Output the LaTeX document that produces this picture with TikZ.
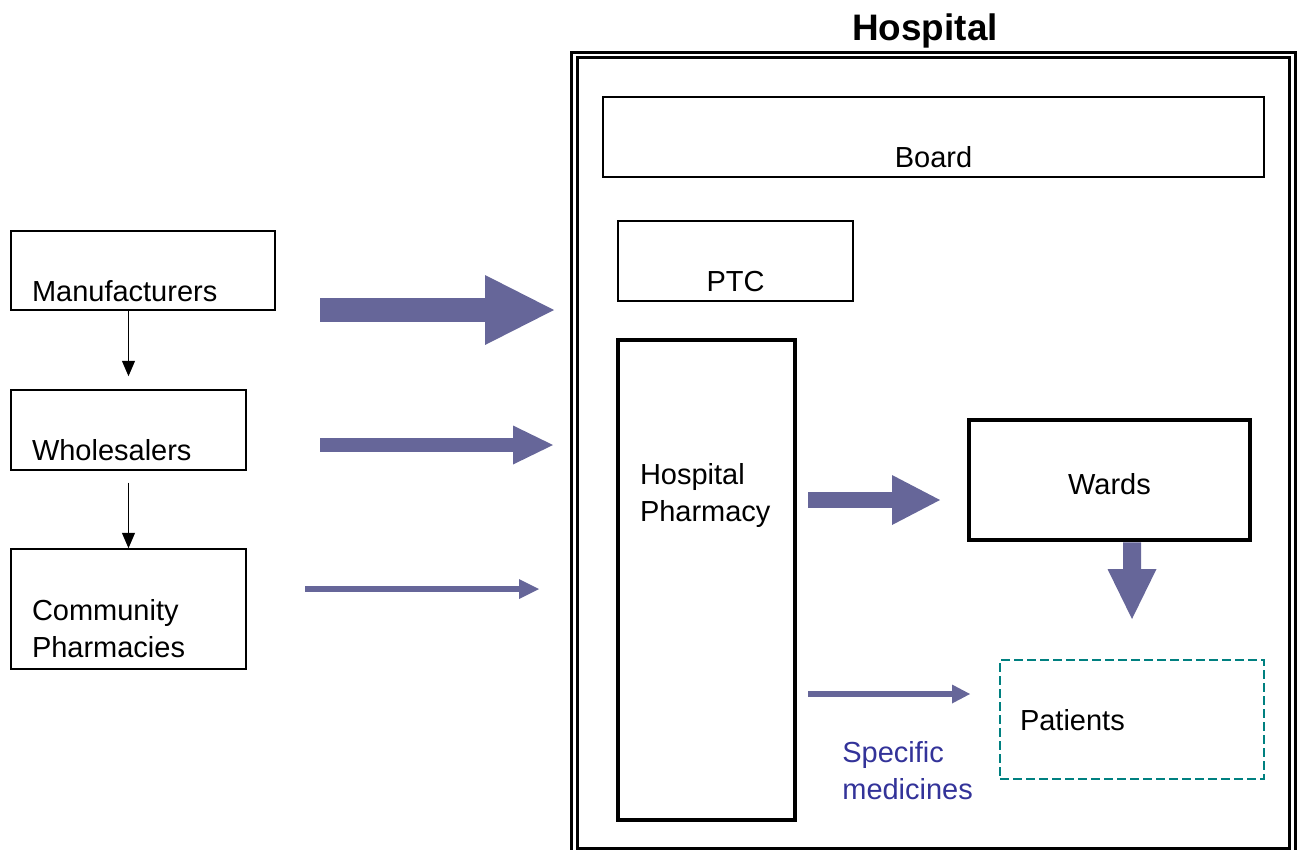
\documentclass[tikz,border=0pt]{standalone}
\usepackage{fontspec}
\setmainfont{Liberation Sans}
\usetikzlibrary{arrows.meta,positioning}
\definecolor{arrowblue}{RGB}{102,102,153}
\definecolor{specblue}{RGB}{51,51,153}
\definecolor{patteal}{RGB}{0,128,128}
\newdimen\pxu
\pxu=0.02cm

\begin{document}
\begin{tikzpicture}[x=0.02cm,y=-0.02cm,
   box/.style={draw,line width=0.9pt,inner sep=0pt,font=\fontsize{16.5pt}{21.6pt}\selectfont},
   thickbox/.style={box,line width=2.8pt},
   dashbox/.style={box,draw=patteal,line width=1.1pt,dash pattern=on 5pt off 2.4pt},
   hospbox/.style={draw,double,double distance=1.3pt,line width=1.8pt,inner sep=0pt},
   fat/.style n args={3}{draw=arrowblue,line width=#1,-{Triangle[width=#2,length=#3,line width=0pt]}},
   smallarrow/.style={draw,line width=1.1pt,-{Triangle[width=7.6pt,length=8.8pt,line width=0pt]}}]
   \useasboundingbox (0,0) rectangle (1302,849);

   \node[hospbox,minimum width=718\pxu,minimum height=796\pxu] (hosp) at (933.5,453) {};
   \node[font=\bfseries\fontsize{21pt}{25pt}\selectfont,anchor=base] (htitle) at (925,40) {Hospital};

   \node[box,minimum width=264\pxu,minimum height=79\pxu,text width=222\pxu,align=left,text height=61\pxu,text depth=0pt] (mfr) at (143,270.5) {Manufacturers};
   \node[box,minimum width=235\pxu,minimum height=80\pxu,text width=193\pxu,align=left,text height=60\pxu,text depth=0pt] (whl) at (128.5,430) {Wholesalers};
   \node[box,minimum width=235\pxu,minimum height=120\pxu,text width=193\pxu,align=left,text height=22\pxu,text depth=0pt] (com) at (128.5,609) {Community\\Pharmacies};

   \node[box,minimum width=661\pxu,minimum height=80\pxu,text height=60\pxu,text depth=0pt] (board) at (933.5,137) {Board};
   \node[box,minimum width=235\pxu,minimum height=80\pxu,text height=60\pxu,text depth=0pt] (ptc) at (735.5,261) {PTC};
   \node[thickbox,minimum width=177\pxu,minimum height=480\pxu,text width=133\pxu,align=left,text height=0pt,text depth=192\pxu] (hph) at (706.5,580) {Hospital\\Pharmacy};
   \node[thickbox,minimum width=281\pxu,minimum height=120\pxu,text height=28\pxu,text depth=0pt] (wards) at (1109.5,480) {Wards};
   \node[dashbox,minimum width=264\pxu,minimum height=119\pxu,text width=224\pxu,align=left,text height=21\pxu,text depth=0pt] (pat) at (1132,719.5) {Patients};
   \node[font=\fontsize{16.5pt}{21.6pt}\selectfont,text=specblue,text width=150\pxu,align=left,anchor=base west,inner sep=0pt] (spec) at (842,762) {Specific\\medicines};

   \coordinate (mfrtail) at (320,310);
   \coordinate (mfrhead) at (554,310);
   \coordinate (whltail) at (320,445);
   \coordinate (whlhead) at (553,445);
   \coordinate (comtail) at (305,589);
   \coordinate (comhead) at (539,589);
   \coordinate (hphtail) at (808,500);
   \coordinate (hphhead) at (940,500);
   \coordinate (wardtail) at ([xshift=22.5\pxu]wards.south);
   \coordinate (wardhead) at (1132,619);
   \coordinate (spectail) at (808,694);
   \coordinate (spechead) at (970,694);

   \path (whl.north |- mfr.south) edge[smallarrow,shorten >=7.4pt] (whl.north)
         (whl.south) edge[smallarrow,shorten <=6.8pt] (com.north);

   \path (mfrtail) edge[fat={13.66pt}{39.83pt}{39.26pt}] (mfrhead)
         (whltail) edge[fat={7.97pt}{22.19pt}{22.76pt}] (whlhead)
         (comtail) edge[fat={3.41pt}{11.38pt}{11.38pt}] (comhead)
         (hphtail) edge[fat={9.10pt}{28.45pt}{27.31pt}] (hphhead)
         (wardtail) edge[fat={10.24pt}{27.88pt}{28.45pt}] (wardhead)
         (spectail) edge[fat={3.41pt}{10.81pt}{10.24pt}] (spechead);
\end{tikzpicture}
\end{document}
